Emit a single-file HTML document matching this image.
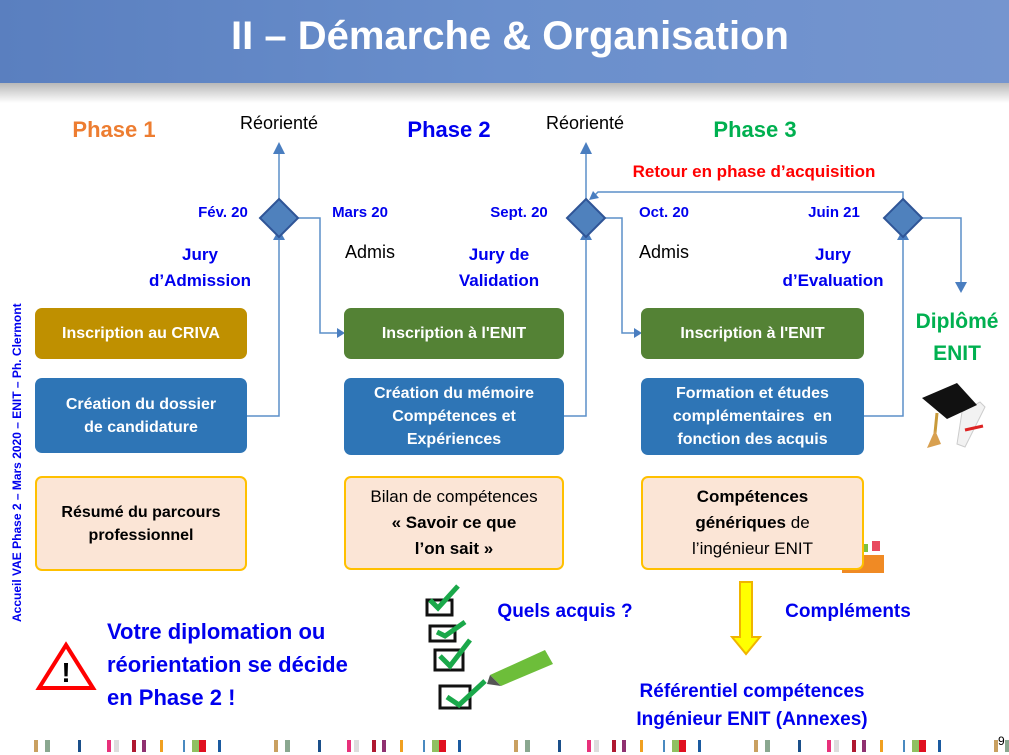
<!DOCTYPE html>
<html><head><meta charset="utf-8"><style>
body{margin:0;width:1009px;height:755px;position:relative;overflow:hidden;background:#fff;font-family:"Liberation Sans",sans-serif}
.a{position:absolute;white-space:nowrap}
.c{position:absolute;text-align:center;transform:translateX(-50%);white-space:nowrap;font-weight:bold}
.box{position:absolute;border-radius:7px;color:#fff;font-weight:bold;display:flex;align-items:center;justify-content:center;text-align:center;font-size:16px;line-height:23px}
.pe{background:#FBE5D6;border:2px solid #FFC000;color:#000;box-sizing:border-box}
.bl{color:#0000EE}
</style></head><body>
<div class="a" style="left:0;top:0;width:1009px;height:83px;background:linear-gradient(90deg,#5a7fbf,#6a8fcc 50%,#7595cf)"></div>
<div class="a" style="left:0;top:83px;width:1009px;height:20px;background:linear-gradient(#b8b8b8,#fff)"></div>
<div class="c" style="left:510px;top:14px;font-size:40px;color:#fff">II – Démarche &amp; Organisation</div>

<div class="c" style="left:114px;top:117px;font-size:22px;color:#ED7D31">Phase 1</div>
<div class="c" style="left:449px;top:117px;font-size:22px;color:#0000EE">Phase 2</div>
<div class="c" style="left:755px;top:117px;font-size:22px;color:#00B050">Phase 3</div>
<div class="c" style="left:279px;top:113px;font-size:18px;font-weight:normal">Réorienté</div>
<div class="c" style="left:585px;top:113px;font-size:18px;font-weight:normal">Réorienté</div>
<div class="c" style="left:754px;top:162px;font-size:17px;color:#FF0000">Retour en phase d’acquisition</div>

<div class="c bl" style="left:223px;top:204px;font-size:15px">Fév. 20</div>
<div class="c bl" style="left:360px;top:204px;font-size:15px">Mars 20</div>
<div class="c bl" style="left:519px;top:204px;font-size:15px">Sept. 20</div>
<div class="c bl" style="left:664px;top:204px;font-size:15px">Oct. 20</div>
<div class="c bl" style="left:834px;top:204px;font-size:15px">Juin 21</div>
<div class="c bl" style="left:200px;top:242px;font-size:17px;line-height:26px">Jury<br>d’Admission</div>
<div class="c bl" style="left:499px;top:242px;font-size:17px;line-height:26px">Jury de<br>Validation</div>
<div class="c bl" style="left:833px;top:242px;font-size:17px;line-height:26px">Jury<br>d’Evaluation</div>
<div class="c" style="left:370px;top:242px;font-size:18px;font-weight:normal">Admis</div>
<div class="c" style="left:664px;top:242px;font-size:18px;font-weight:normal">Admis</div>

<svg class="a" style="left:0;top:0" width="1009" height="755">
<g stroke="#5B8FC9" stroke-width="1.5" fill="none">
<path d="M247 416H279V240"/><path d="M279 199V150"/><path d="M297 218H320V333H338"/>
<path d="M564 416H586V240"/><path d="M586 199V150"/><path d="M604 218H622V333H635"/>
<path d="M864 416H903V240"/><path d="M921 218H961V285"/><path d="M903 199V192H598L594 196"/>
</g>
<g fill="#4A7EC0">
<path d="M273 240h12l-6 -11z"/><path d="M273 154h12l-6 -12z"/><path d="M337 328v10l8 -5z"/>
<path d="M580 240h12l-6 -11z"/><path d="M580 154h12l-6 -12z"/><path d="M634 328v10l8 -5z"/>
<path d="M897 240h12l-6 -11z"/><path d="M955 282h12l-6 11z"/><path d="M589 200l10-2-6-7z"/>
</g>
<g fill="#4F81BD" stroke="#2F5597" stroke-width="2">
<path d="M279 199l19 19-19 19-19-19z"/><path d="M586 199l19 19-19 19-19-19z"/><path d="M903 199l19 19-19 19-19-19z"/>
</g>
<path d="M740 582h12v55h8l-14 17-14-17h8z" fill="#FFFF00" stroke="#F0B400" stroke-width="2"/>
<path d="M66 645l27 43h-54z" fill="#fff" stroke="#FF0000" stroke-width="4"/>
<text x="66" y="682" font-size="28" font-weight="bold" text-anchor="middle" font-family="Liberation Sans">!</text>
<g stroke="#111" stroke-width="3" fill="none">
<rect x="427" y="600" width="25" height="15"/><rect x="430" y="626" width="25" height="15"/><rect x="435" y="650" width="28" height="20"/><rect x="440" y="686" width="30" height="22"/>
</g>
<g stroke="#1aa84a" stroke-width="5" fill="none">
<path d="M430 600l8 8 20-22"/><path d="M437 632l8 4 20-14"/><path d="M440 656l10 10 20-26"/><path d="M447 697l12 8 26-24"/>
</g>
<path d="M490 675l55-25 8 14-52 22z" fill="#6DBE3A"/><path d="M490 675l11 11-14-2z" fill="#555"/>
<path d="M962 412l18 -10 5 5-20 40-8 -3z" fill="#f2f2f2" stroke="#ccc"/>
<path d="M922 398l35-15 20 22-30 14z" fill="#111"/><path d="M937 413l-2 20" stroke="#c89a3a" stroke-width="3"/>
<path d="M935 430l-8 18 14-4z" fill="#d8a050"/>
<path d="M965 430l18 -4" stroke="#d22" stroke-width="3"/>
<rect x="842" y="555" width="42" height="18" fill="#F08A24"/>
<rect x="848" y="541" width="8" height="10" fill="#3a9ad9"/><rect x="860" y="544" width="8" height="8" fill="#7bc043"/><rect x="872" y="541" width="8" height="10" fill="#e84a5f"/>
</svg>

<div class="box" style="left:35px;top:308px;width:212px;height:51px;background:#BF9000">Inscription au CRIVA</div>
<div class="box" style="left:35px;top:378px;width:212px;height:75px;background:#2E75B6">Création du dossier<br>de candidature</div>
<div class="box pe" style="left:35px;top:476px;width:212px;height:95px">Résumé du parcours<br>professionnel</div>
<div class="box" style="left:344px;top:308px;width:220px;height:51px;background:#548235">Inscription à l'ENIT</div>
<div class="box" style="left:344px;top:378px;width:220px;height:77px;background:#2E75B6">Création du mémoire<br>Compétences et<br>Expériences</div>
<div class="box pe" style="left:344px;top:476px;width:220px;height:94px;font-weight:normal;font-size:17px;line-height:26px"><span>Bilan de compétences<br><b>« Savoir ce que<br>l’on sait »</b></span></div>
<div class="box" style="left:641px;top:308px;width:223px;height:51px;background:#548235">Inscription à l'ENIT</div>
<div class="box" style="left:641px;top:378px;width:223px;height:77px;background:#2E75B6">Formation et études<br>complémentaires &nbsp;en<br>fonction des acquis</div>
<div class="box pe" style="left:641px;top:476px;width:223px;height:94px;font-weight:normal;font-size:17px;line-height:26px"><span><b>Compétences<br>génériques</b> de<br>l’ingénieur ENIT</span></div>

<div class="c" style="left:957px;top:306px;font-size:21px;line-height:32px;color:#00B050">Diplômé<br>ENIT</div>
<div class="c bl" style="left:565px;top:601px;font-size:19px">Quels acquis ?</div>
<div class="c bl" style="left:848px;top:601px;font-size:19px">Compléments</div>
<div class="c bl" style="left:752px;top:678px;font-size:19px;line-height:28px">Référentiel compétences<br>Ingénieur ENIT (Annexes)</div>
<div class="a bl" style="left:107px;top:615px;font-size:22px;line-height:33px;font-weight:bold">Votre diplomation ou<br>réorientation se décide<br>en Phase 2 !</div>
<div class="a bl" style="left:10px;top:622px;font-size:12px;font-weight:bold;transform:rotate(-90deg);transform-origin:0 0">Accueil VAE Phase 2 – Mars 2020 – ENIT – Ph. Clermont</div>
<div class="a" style="left:998px;top:734px;font-size:12px">9</div>

<div class="a" style="left:0;top:740px;width:1009px;height:12px;background:repeating-linear-gradient(90deg,transparent 0 34px,#c9a060 34px 38px,transparent 38px 45px,#8aa890 45px 50px,transparent 50px 78px,#1a4f8a 78px 81px,transparent 81px 107px,#e8307a 107px 111px,transparent 111px 114px,#ddd 114px 119px,transparent 119px 132px,#b01830 132px 136px,transparent 136px 142px,#903070 142px 146px,transparent 146px 160px,#f0a020 160px 163px,transparent 163px 183px,#4a8ac0 183px 185px,transparent 185px 192px,#90c060 192px 199px,#e01020 199px 206px,transparent 206px 218px,#1a5aa0 218px 221px,transparent 221px 240px)"></div>
</body></html>
